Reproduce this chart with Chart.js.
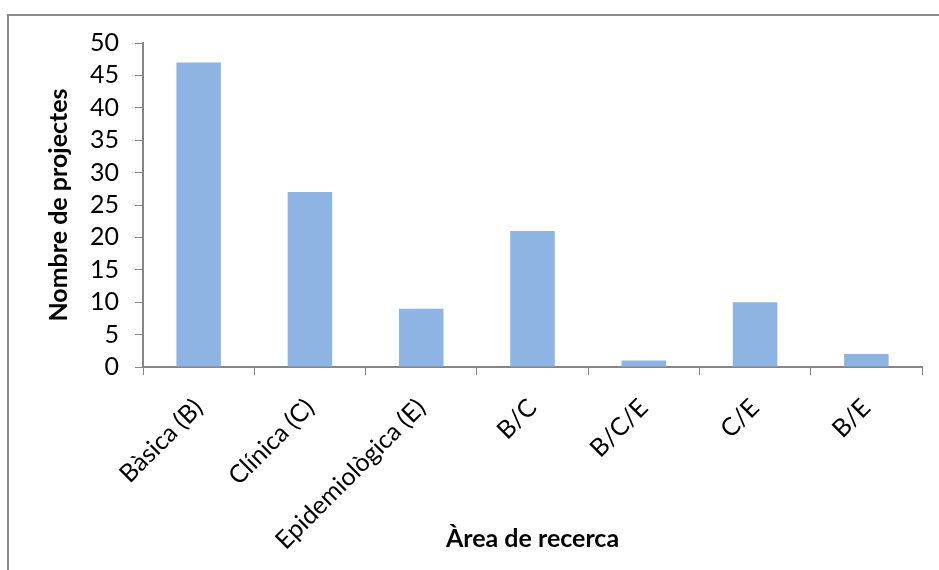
<!DOCTYPE html>
<html>
<head>
<meta charset="utf-8">
<script src="https://cdn.jsdelivr.net/npm/chart.js@4/dist/chart.umd.min.js"></script>
<style>
  html, body { margin: 0; padding: 0; background: #fff; overflow: hidden; }
  #wrap { position: relative; width: 939px; height: 570px; }
  #frame { position: absolute; left: 7px; top: 14px; width: 1000px; height: 1000px;
           border-top: 2px solid #8a8a8a; border-left: 2px solid #8a8a8a; box-sizing: border-box; }
  canvas { position: absolute; left: 0; top: 0; }
</style>
</head>
<body>
<div id="wrap">
  <div id="frame"></div>
  <canvas id="c" width="939" height="570"></canvas>
</div>
<script>
// Research areas and number of projects in each
const categories = ['Bàsica (B)', 'Clínica (C)', 'Epidemiològica (E)', 'B/C', 'B/C/E', 'C/E', 'B/E'];
const projectCounts = [47, 27, 9, 21, 1, 10, 2];
const yTicks = [0, 5, 10, 15, 20, 25, 30, 35, 40, 45, 50];

const FONT = 'Lato, Carlito, Calibri, sans-serif';
const AXIS_GREY = '#868686';
const PAD_LEFT = 44;
const PAD_BOTTOM = 16;

new Chart(document.getElementById('c'), {
  type: 'bar',
  data: {
    labels: categories,
    datasets: [{
      data: projectCounts,
      backgroundColor: '#8EB4E3',
      borderWidth: 0,
      categoryPercentage: 0.4,
      barPercentage: 1.0
    }]
  },
  options: {
    responsive: false,
    animation: false,
    events: [],
    layout: { padding: { left: PAD_LEFT, top: 43, right: 17, bottom: PAD_BOTTOM } },
    plugins: { legend: { display: false }, tooltip: { enabled: false } },
    scales: {
      x: {
        grid: { display: true, drawOnChartArea: false, drawTicks: true, tickLength: 8, color: AXIS_GREY, offset: true },
        border: { display: true, color: AXIS_GREY, width: 2 },
        ticks: { color: '#000', font: { family: FONT, size: 25 }, minRotation: 45, maxRotation: 45, padding: 18, autoSkip: false },
        title: { display: true, text: 'Àrea de recerca', color: '#000', font: { family: FONT, size: 25, weight: 'bold' }, padding: 0 },
        afterFit: s => { s.height = 570 - 367 - PAD_BOTTOM; }
      },
      y: {
        min: 0, max: 50,
        afterBuildTicks: s => { s.ticks = yTicks.map(v => ({ value: v })); },
        grid: { display: true, drawOnChartArea: false, drawTicks: true, tickLength: 8, color: AXIS_GREY },
        border: { display: true, color: AXIS_GREY, width: 2 },
        ticks: { color: '#000', font: { family: FONT, size: 25 }, padding: 16, autoSkip: false },
        title: { display: true, text: 'Nombre de projectes', color: '#000', font: { family: FONT, size: 25, weight: 'bold' }, padding: 0 },
        afterFit: s => { s.width = 143 - PAD_LEFT; }
      }
    }
  }
});
</script>
</body>
</html>
